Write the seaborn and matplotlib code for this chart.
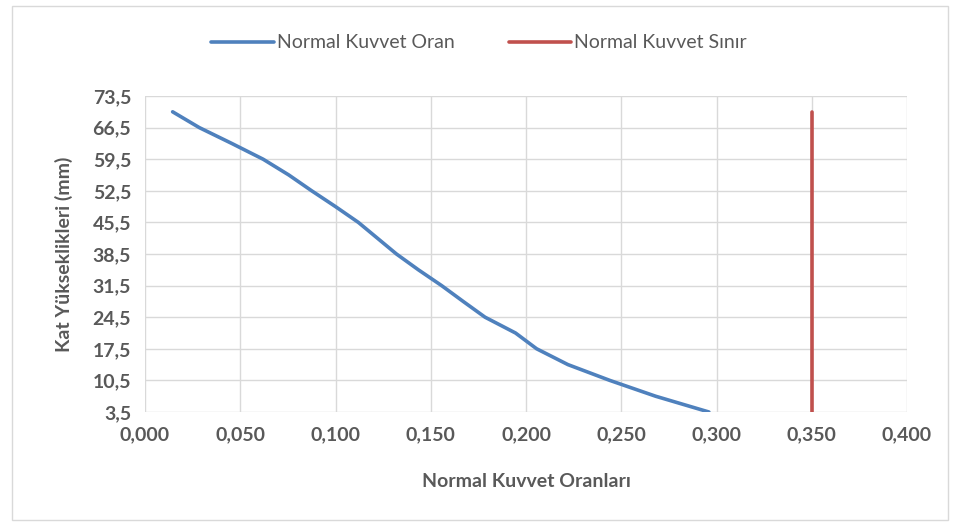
import pandas as pd
import seaborn as sns
import matplotlib.pyplot as plt
from matplotlib.ticker import FuncFormatter, MultipleLocator
from matplotlib.patches import Rectangle

# Chart values
kat_yukseklikleri = [70.0, 66.5, 63.0, 59.5, 56.0, 52.5, 49.0, 45.5, 42.0, 38.5,
                     35.0, 31.5, 28.0, 24.5, 21.0, 17.5, 14.0, 10.5, 7.0, 3.5]
normal_kuvvet_oran = [0.0145, 0.0285, 0.0455, 0.062, 0.0755, 0.0875, 0.100, 0.112,
                      0.122, 0.132, 0.1435, 0.1557, 0.167, 0.1785, 0.1945,
                      0.2056, 0.222, 0.244, 0.268, 0.296]
sinir_x = [0.35, 0.35]
sinir_y = [70.0, 3.5]

y_ticks = [3.5, 10.5, 17.5, 24.5, 31.5, 38.5, 45.5, 52.5, 59.5, 66.5, 73.5]
series_names = ['Normal Kuvvet Oran', 'Normal Kuvvet Sınır']
x_label = 'Normal Kuvvet Oranları'
y_label = 'Kat Yükseklikleri (mm)'

sns.set_style('white')
plt.rcParams['font.family'] = ['Lato', 'DejaVu Sans']

GRAY = '#595959'
BLUE = '#4F81BD'
RED = '#C0504D'

oran_df = pd.DataFrame({'x': normal_kuvvet_oran, 'y': kat_yukseklikleri})
sinir_df = pd.DataFrame({'x': sinir_x, 'y': sinir_y})

fig = plt.figure(figsize=(9.58, 5.26), dpi=100)
ax = fig.add_axes([145 / 958, 1 - 412 / 526, (907 - 145) / 958, (412 - 96) / 526])

sns.lineplot(data=oran_df, x='x', y='y', ax=ax, color=BLUE, linewidth=2.6,
             estimator=None, sort=False, label=series_names[0])
sns.lineplot(data=sinir_df, x='x', y='y', ax=ax, color=RED, linewidth=2.6,
             estimator=None, sort=False, label=series_names[1])

ax.set_xlim(0, 0.4)
ax.set_ylim(y_ticks[0], y_ticks[-1])
ax.xaxis.set_major_locator(MultipleLocator(0.05))
ax.set_yticks(y_ticks)
ax.xaxis.set_major_formatter(FuncFormatter(lambda v, p: f'{v:.3f}'.replace('.', ',')))
ax.yaxis.set_major_formatter(FuncFormatter(lambda v, p: f'{v:.1f}'.replace('.', ',')))

ax.grid(True, color='#D9D9D9', linewidth=1)
ax.set_axisbelow(True)
for s in ax.spines.values():
    s.set_visible(False)
ax.tick_params(length=0, pad=10, labelsize=14, labelcolor=GRAY)
for lbl in ax.get_xticklabels() + ax.get_yticklabels():
    lbl.set_fontweight('bold')

ax.set_xlabel(x_label, fontsize=14, fontweight='bold', color=GRAY, labelpad=22)
ax.set_ylabel(y_label, fontsize=14, fontweight='bold', color=GRAY, labelpad=14)

leg = ax.legend(loc='center', bbox_to_anchor=(0.5, 1 - 43 / 526), bbox_transform=fig.transFigure,
                ncol=2, frameon=False, fontsize=14, handlelength=3.2,
                handletextpad=0.15, columnspacing=2.8)
for t in leg.get_texts():
    t.set_color(GRAY)

# chart area border
fig.patches.append(Rectangle((12 / 958, 6 / 526), 936 / 958, 514 / 526,
                             transform=fig.transFigure, fill=False,
                             edgecolor='#D9D9D9', linewidth=1))

fig.savefig('out.png', dpi=100)
